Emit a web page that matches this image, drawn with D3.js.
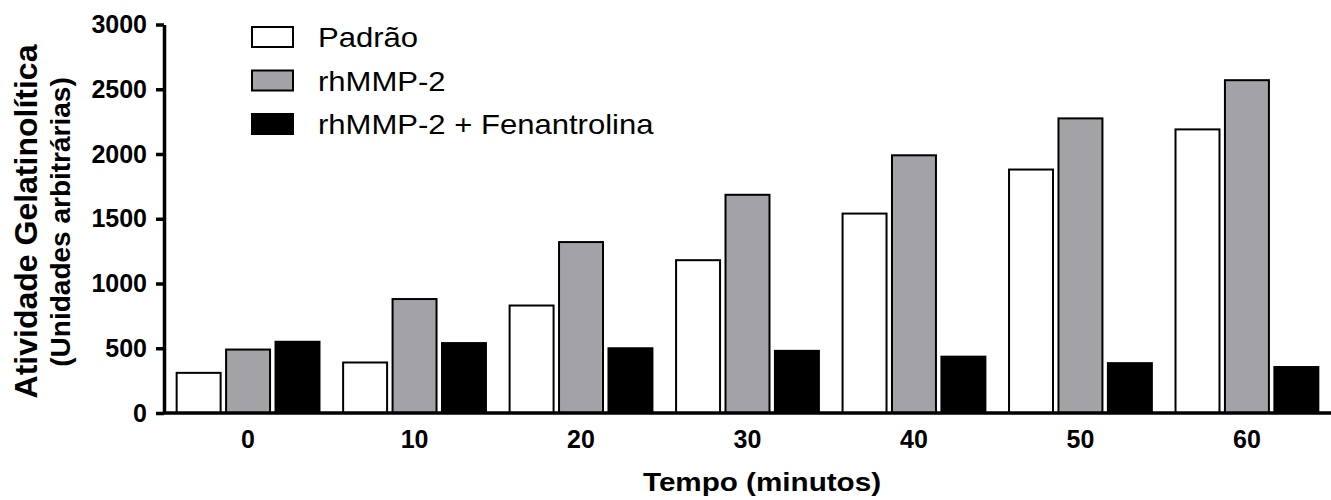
<!DOCTYPE html>
<html>
<head>
<meta charset="utf-8">
<script src="https://cdn.jsdelivr.net/npm/d3@7"></script>
<style>
  body { margin: 0; background: #fff; }
  text { font-family: "Liberation Sans", Arial, sans-serif; }
</style>
</head>
<body>
<div id="chart"></div>
<script>
let times = ['0', '10', '20', '30', '40', '50', '60']
let seriesNames = ['Padrão', 'rhMMP-2', 'rhMMP-2 + Fenantrolina']
let padrao = [310, 390, 830, 1180, 1540, 1880, 2190]
let rhmmp2 = [490, 880, 1320, 1685, 1990, 2275, 2570]
let fenantrolina = [550, 540, 500, 480, 435, 385, 355]
let yTicks = [0, 500, 1000, 1500, 2000, 2500, 3000]
let fills = ['#ffffff', '#a3a2a7', '#000000']

let width = 1331
let height = 500
let margin = { top: 24.5, left: 164, right: 0, bottom: 87 }
let font = '"Liberation Sans", Arial, sans-serif'

let svg = d3.select('#chart')
  .append('svg')
  .attr('width', width)
  .attr('height', height)

let allSeries = [padrao, rhmmp2, fenantrolina]

let x0 = d3.scaleBand()
  .domain(times)
  .range([margin.left, width - margin.right])
  .paddingInner(0.13)
  .paddingOuter(0.07)

let x1 = d3.scaleBand()
  .domain(d3.range(3))
  .range([0, x0.bandwidth()])
  .paddingInner(0.07)

let y = d3.scaleLinear()
  .domain([0, 3000])
  .range([height - margin.bottom, margin.top])

// bars
let groups = svg.selectAll('.group')
  .data(times)
  .enter()
  .append('g')
  .attr('class', 'group')
  .attr('transform', d => `translate(${x0(d)},0)`)

groups.selectAll('rect')
  .data((d, i) => allSeries.map((s, k) => ({ k: k, v: s[i] })))
  .enter()
  .append('rect')
  .attr('x', d => x1(d.k) + 1)
  .attr('width', x1.bandwidth() - 2)
  .attr('y', d => y(d.v))
  .attr('height', d => y(0) - y(d.v))
  .attr('fill', d => fills[d.k])
  .attr('stroke', '#000')
  .attr('stroke-width', 2)

// y axis
let yAxis = svg.append('g')
  .attr('transform', `translate(${margin.left},0)`)
  .call(d3.axisLeft(y).tickValues(yTicks).tickFormat(d3.format('d')).tickSize(8).tickSizeOuter(0).tickPadding(9))

yAxis.select('.domain').attr('stroke-width', 3.5)
yAxis.selectAll('.tick line').attr('stroke-width', 3.5)
yAxis.selectAll('text')
  .attr('font-size', 25)
  .attr('font-weight', 'bold')
  .attr('fill', '#000')
  .attr('font-family', font)

// x axis
let xAxis = svg.append('g')
  .attr('transform', `translate(0,${y(0)})`)
  .call(d3.axisBottom(x0).tickSize(0).tickPadding(17))

xAxis.select('.domain')
  .attr('d', `M${margin.left},0H${width}`)
  .attr('stroke-width', 3.5)
xAxis.selectAll('text')
  .attr('font-size', 25)
  .attr('font-weight', 'bold')
  .attr('fill', '#000')
  .attr('font-family', font)

// axis titles
svg.append('text')
  .attr('transform', 'translate(762,491) scale(1.14,1)')
  .attr('text-anchor', 'middle')
  .attr('font-size', 26)
  .attr('font-weight', 'bold')
  .text('Tempo (minutos)')

svg.append('text')
  .attr('transform', 'translate(36.5,221.5) rotate(-90)')
  .attr('text-anchor', 'middle')
  .attr('font-size', 32)
  .attr('font-weight', 'bold')
  .text('Atividade Gelatinolítica')

svg.append('text')
  .attr('transform', 'translate(70,222) rotate(-90)')
  .attr('text-anchor', 'middle')
  .attr('font-size', 28)
  .attr('font-weight', 'bold')
  .text('(Unidades arbitrárias)')

// legend
let legend = svg.selectAll('.legend')
  .data(seriesNames)
  .enter()
  .append('g')
  .attr('class', 'legend')
  .attr('transform', (d, i) => `translate(252,${27 + i * 43.5})`)

legend.append('rect')
  .attr('width', 41)
  .attr('height', 20)
  .attr('fill', (d, i) => fills[i])
  .attr('stroke', '#000')
  .attr('stroke-width', 2)

legend.append('text')
  .attr('transform', 'translate(66,20) scale(1.15,1)')
  .attr('font-size', 27)
  .attr('fill', '#000')
  .text(d => d)
</script>
</body>
</html>
